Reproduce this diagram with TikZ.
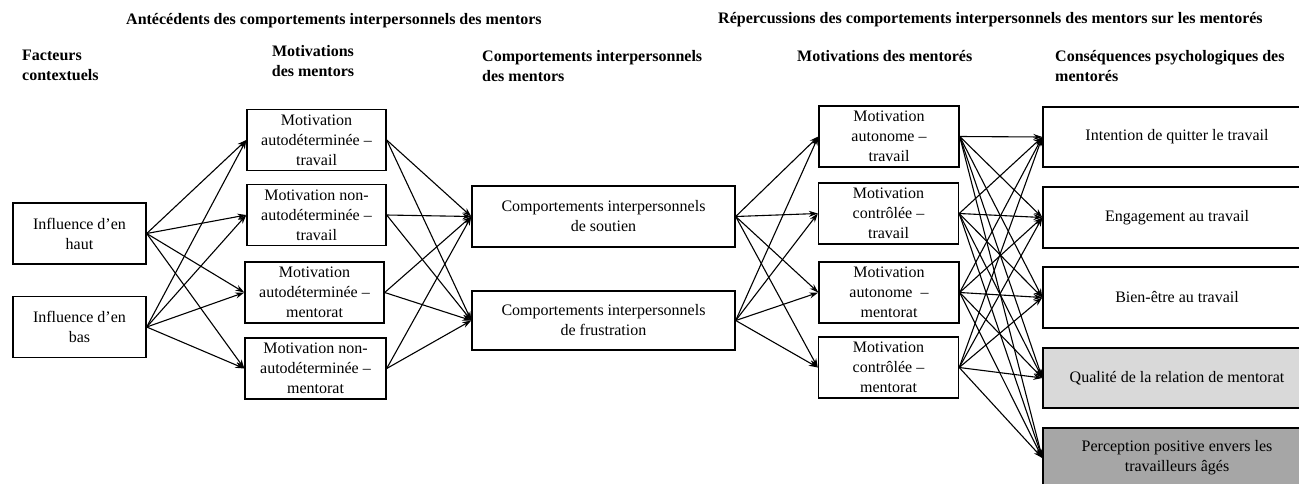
\documentclass[tikz,border=0pt]{standalone}
\usepackage{fontspec}
\setmainfont{Liberation Serif}
\usetikzlibrary{arrows.meta}
\definecolor{lightfill}{HTML}{D9D9D9}
\definecolor{darkfill}{HTML}{A6A6A6}
\begin{document}
\begin{tikzpicture}[x=1pt,y=-1pt,
  font=\fontsize{16}{20}\selectfont,
  box/.style={draw, line width=1.4pt, align=center, inner sep=0pt, minimum height=61pt},
  head/.style={font=\fontsize{16}{20}\selectfont\bfseries, inner sep=0pt, align=left, anchor=north west},
  arr/.style={line width=1.1pt, -{Stealth[length=9pt,width=6pt]}}]
\useasboundingbox (0,0) rectangle (1299,483);

% column headings
\node[head] (hAnte) at (126,13) {Antécédents des comportements interpersonnels des mentors};
\node[head] (hRep) at (718,12) {Répercussions des comportements interpersonnels des mentors sur les mentorés};
\node[head] (hFact) at (22,50) {Facteurs\\contextuels};
\node[head, align=center, anchor=north] (hMotM) at (313,45) {Motivations\\des mentors};
\node[head] (hComp) at (482,50) {Comportements interpersonnels\\des mentors};
\node[head] (hMotE) at (797,50) {Motivations des mentorés};
\node[head] (hCons) at (1055,50) {Conséquences psychologiques des\\mentorés};

% contextual factors
\node[box, minimum width=133pt] (haut) at (79.5,233.5) {Influence d’en\\haut};
\node[box, minimum width=133pt] (bas) at (79.5,327) {Influence d’en\\bas};

% mentors' motivations
\node[box, minimum width=139pt] (mm1) at (316.5,140) {Motivation\\autodéterminée –\\travail};
\node[box, minimum width=139pt] (mm2) at (316.5,215) {Motivation non-\\autodéterminée –\\travail};
\node[box, minimum width=139pt] (mm3) at (314.5,292.5) {Motivation\\autodéterminée –\\mentorat};
\node[box, minimum width=141pt] (mm4) at (315.5,368.5) {Motivation non-\\autodéterminée –\\mentorat};

% mentors' interpersonal behaviours
\node[box, minimum width=263pt] (cs) at (603.5,216.5) {Comportements interpersonnels\\de soutien};
\node[box, minimum width=263pt, minimum height=59pt] (cf) at (603.5,320.5) {Comportements interpersonnels\\de frustration};

% mentees' motivations
\node[box, minimum width=140pt] (me1) at (889,136.5) {Motivation\\autonome –\\travail};
\node[box, minimum width=140pt] (me2) at (888.5,213.5) {Motivation\\contrôlée –\\travail};
\node[box, minimum width=140pt] (me3) at (889,292.5) {Motivation\\autonome \ –\\mentorat};
\node[box, minimum width=140pt] (me4) at (888.5,367.5) {Motivation\\contrôlée –\\mentorat};

% psychological consequences
\node[box, minimum width=268pt, minimum height=60pt] (c1) at (1177,137) {Intention de quitter le travail};
\node[box, minimum width=268pt] (c2) at (1177,217.5) {Engagement au travail};
\node[box, minimum width=268pt] (c3) at (1177,297.5) {Bien-être au travail};
\node[box, minimum width=268pt, minimum height=60pt, fill=lightfill] (c4) at (1177,378) {Qualité de la relation de mentorat};
\node[box, minimum width=268pt, minimum height=60pt, fill=darkfill] (c5) at (1177,458) {Perception positive envers les\\travailleurs âgés};

% connectors: every box of one column to every box of the next
\foreach \s in {haut,bas}
  \foreach \t in {mm1,mm2,mm3,mm4}
    \draw[arr] (\s.east) -- (\t.west);
\foreach \s in {mm1,mm2,mm3,mm4}
  \foreach \t in {cs,cf}
    \draw[arr] (\s.east) -- (\t.west);
\foreach \s in {cs,cf}
  \foreach \t in {me1,me2,me3,me4}
    \draw[arr] (\s.east) -- (\t.west);
\foreach \s in {me1,me2,me3,me4}
  \foreach \t in {c1,c2,c3,c4,c5}
    \draw[arr] (\s.east) -- (\t.west);
\end{tikzpicture}
\end{document}
